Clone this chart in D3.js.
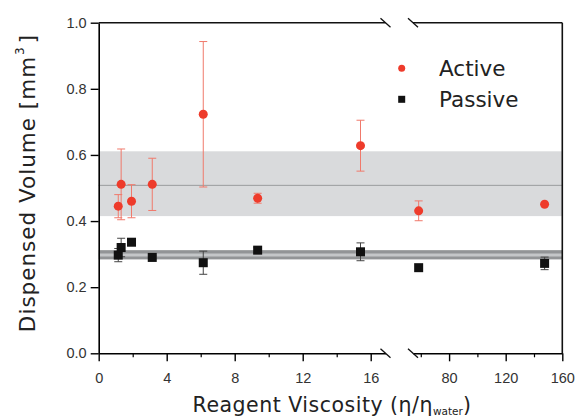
<!DOCTYPE html>
<html>
<head>
<meta charset="utf-8">
<script src="https://cdn.jsdelivr.net/npm/d3@7"></script>
<style>
  body { margin: 0; background: #fff; }
  svg { font-family: "DejaVu Sans", sans-serif; }
</style>
</head>
<body>
<div id="chart"></div>
<script>
// viscosity (eta / eta_water) for each reagent
const viscosity = [1.15, 1.32, 1.93, 3.15, 6.15, 9.35, 15.4, 58.5, 147.5];

const activeVol = [0.445, 0.511, 0.46, 0.511, 0.723, 0.469, 0.628, 0.431, 0.451];
const activeErr = [0.035, 0.107, 0.05, 0.079, 0.22, 0.015, 0.077, 0.03, 0];

const passiveVol = [0.297, 0.32, 0.336, 0.29, 0.274, 0.312, 0.307, 0.259, 0.272];
const passiveErr = [0.02, 0.028, 0.008, 0.005, 0.035, 0.008, 0.027, 0, 0.019];

// mean +/- sd bands
const activeMean = 0.508, activeBand = [0.415, 0.611];
const passiveMean = 0.297, passiveBand = [0.284, 0.312];

const yTicks = [0, 0.2, 0.4, 0.6, 0.8, 1.0];
const xTicksLeft = [0, 4, 8, 12, 16], xMinorLeft = [2, 6, 10, 14];
const xTicksRight = [80, 120, 160], xMinorRight = [60, 100, 140];

const W = 579, H = 419;
const pLeft = 98.7, pRight = 562.3, pTop = 22.7, pBottom = 353.3;
const breakL = 385.5, breakR = 413;

const svg = d3.select("#chart").append("svg")
    .attr("width", W)
    .attr("height", H);

const y = d3.scaleLinear().domain([0, 1]).range([pBottom, pTop]);
const xLeft = d3.scaleLinear().domain([0, 16.87]).range([pLeft, breakL]);
const xRight = d3.scaleLinear().domain([54.5, 160]).range([breakR, pRight]);
const xPos = v => v < 40 ? xLeft(v) : xRight(v);

// shaded bands
svg.append("rect")
    .attr("x", pLeft).attr("width", pRight - pLeft)
    .attr("y", y(activeBand[1])).attr("height", y(activeBand[0]) - y(activeBand[1]))
    .attr("fill", "#d9dadc");
svg.append("line")
    .attr("x1", pLeft).attr("x2", pRight)
    .attr("y1", y(activeMean)).attr("y2", y(activeMean))
    .attr("stroke", "#9a9b9d").attr("stroke-width", 1);

svg.append("rect")
    .attr("x", pLeft).attr("width", pRight - pLeft)
    .attr("y", y(passiveBand[1])).attr("height", y(passiveBand[0]) - y(passiveBand[1]))
    .attr("fill", "#929496");
svg.append("line")
    .attr("x1", pLeft).attr("x2", pRight)
    .attr("y1", y(passiveMean)).attr("y2", y(passiveMean))
    .attr("stroke", "#c4c6c8").attr("stroke-width", 3);

// error bars + markers
function drawSeries(vals, errs, color, errColor, shape) {
    const g = svg.append("g");
    const d = vals.map((v, i) => ({ x: viscosity[i], v: v, e: errs[i] }));
    const eb = g.selectAll(".err").data(d.filter(p => p.e > 0)).enter().append("g")
        .attr("stroke", errColor).attr("stroke-width", 1);
    eb.append("line")
        .attr("x1", p => xPos(p.x)).attr("x2", p => xPos(p.x))
        .attr("y1", p => y(p.v - p.e)).attr("y2", p => y(p.v + p.e));
    [-1, 1].forEach(s => {
        eb.append("line")
            .attr("x1", p => xPos(p.x) - 4).attr("x2", p => xPos(p.x) + 4)
            .attr("y1", p => y(p.v + s * p.e)).attr("y2", p => y(p.v + s * p.e));
    });
    if (shape === "circle") {
        g.selectAll("circle").data(d).enter().append("circle")
            .attr("cx", p => xPos(p.x)).attr("cy", p => y(p.v))
            .attr("r", 4.5).attr("fill", color);
    } else {
        g.selectAll("rect").data(d).enter().append("rect")
            .attr("x", p => xPos(p.x) - 4.5).attr("y", p => y(p.v) - 4.5)
            .attr("width", 9).attr("height", 9).attr("fill", color);
    }
}
drawSeries(passiveVol, passiveErr, "#111", "#444", "square");
drawSeries(activeVol, activeErr, "#ee3b2b", "#f0796b", "circle");

// axes
const tickFont = g => g.selectAll("text")
    .attr("font-size", 14.5).attr("fill", "#333");

svg.append("g")
    .attr("transform", `translate(${pLeft},0)`)
    .call(d3.axisLeft(y).tickValues(yTicks).tickFormat(d3.format(".1f"))
        .tickSize(8).tickSizeOuter(0).tickPadding(4))
    .call(tickFont)
    .call(g => g.select(".domain").attr("stroke-width", 1.6))
    .call(g => g.selectAll(".tick line").attr("stroke-width", 1.4));

function bottomAxis(scale, major, minor) {
    svg.append("g")
        .attr("transform", `translate(0,${pBottom})`)
        .call(d3.axisBottom(scale).tickValues(major).tickSize(8).tickSizeOuter(0).tickPadding(11))
        .call(tickFont)
        .call(g => g.select(".domain").attr("stroke-width", 1.6))
        .call(g => g.selectAll(".tick line").attr("stroke-width", 1.4));
    svg.append("g")
        .attr("transform", `translate(0,${pBottom})`)
        .call(d3.axisBottom(scale).tickValues(minor).tickSize(4).tickFormat(""))
        .call(g => g.select(".domain").remove())
        .call(g => g.selectAll(".tick line").attr("stroke-width", 1.2));
}
bottomAxis(xLeft, xTicksLeft, xMinorLeft);
bottomAxis(xRight, xTicksRight, xMinorRight);

// frame: top and right
const frame = svg.append("g").attr("stroke", "#111").attr("stroke-width", 1.6).attr("fill", "none");
frame.append("line").attr("x1", pLeft).attr("x2", breakL).attr("y1", pTop).attr("y2", pTop);
frame.append("line").attr("x1", breakR).attr("x2", pRight).attr("y1", pTop).attr("y2", pTop);
frame.append("line").attr("x1", pRight).attr("x2", pRight).attr("y1", pTop).attr("y2", pBottom);

// break marks
[pTop, pBottom].forEach(yy => {
    [breakL, breakR].forEach(xx => {
        frame.append("line")
            .attr("x1", xx - 5).attr("y1", yy - 4.5)
            .attr("x2", xx + 5).attr("y2", yy + 4.5)
            .attr("stroke-width", 1.3);
    });
});

// axis titles
svg.append("text")
    .attr("transform", `translate(35,183) rotate(-90)`)
    .attr("text-anchor", "middle")
    .attr("font-size", 21.5).attr("fill", "#222")
    .attr("letter-spacing", 1)
    .call(t => {
        t.append("tspan").text("Dispensed Volume [mm");
        t.append("tspan").text("3").attr("font-size", 12).attr("dy", -11).attr("dx", 1);
        t.append("tspan").text("]").attr("dy", 11).attr("dx", 3);
    });

svg.append("text")
    .attr("x", 332).attr("y", 412)
    .attr("text-anchor", "middle")
    .attr("font-size", 20.5).attr("fill", "#222")
    .attr("letter-spacing", 0.5)
    .call(t => {
        t.append("tspan").text("Reagent Viscosity (η/η");
        t.append("tspan").text("water").attr("font-size", 10.5).attr("dy", 3).attr("letter-spacing", 0);
        t.append("tspan").text(")").attr("dy", -3);
    });

// legend
const legend = svg.append("g");
legend.append("circle").attr("cx", 401.7).attr("cy", 68.3).attr("r", 3.5).attr("fill", "#ee3b2b");
legend.append("rect").attr("x", 398.2).attr("y", 95.8).attr("width", 7).attr("height", 7).attr("fill", "#111");
legend.append("text").attr("x", 439).attr("y", 76).attr("font-size", 21.5).attr("fill", "#222").text("Active");
legend.append("text").attr("x", 439).attr("y", 107).attr("font-size", 21.5).attr("fill", "#222").text("Passive");
</script>
</body>
</html>
